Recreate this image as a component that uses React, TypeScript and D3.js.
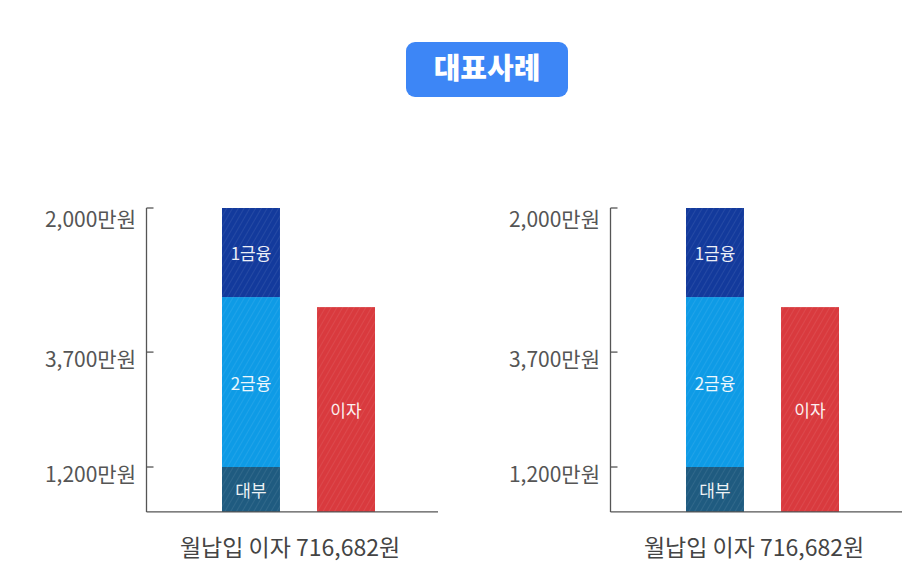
import React from "react";
import * as d3 from "d3";

const title = "대표사례";
const stackCategories = ["대부", "2금융", "1금융"];
const stackValues = [14.8, 55.9, 29.3];
const stackColors = ["#1f5b80", "#0e9be6", "#133a9c"];
const interestLabel = "이자";
const interestValue = 67.4;
const interestColor = "#d93a3e";
const tickValues = [100, 52.6, 14.8];
const tickLabels = ["2,000만원", "3,700만원", "1,200만원"];
const caption = "월납입 이자 716,682원";
const panelOffsets = [0, 464];

const FONT = "'Noto Sans CJK KR', 'Noto Sans', sans-serif";

function Panel({ dx }: { dx: number }) {
  const y = d3.scaleLinear().domain([0, 100]).range([512, 208]);
  const x = d3.scaleBand().domain(["stack", "interest"]).range([222, 375]).paddingInner(0.39).paddingOuter(0);
  const axisX = 146.5;
  let acc = 0;
  const segs = stackValues.map((v, i) => {
    const s = { y0: acc, y1: acc + v, cat: stackCategories[i], color: stackColors[i] };
    acc += v;
    return s;
  });
  const bw = x.bandwidth();
  const sx = x("stack")!;
  const ix = x("interest")!;
  return (
    <g transform={`translate(${dx},0)`}>
      {segs.map((s, i) => (
        <g key={i}>
          <rect x={sx} y={y(s.y1)} width={bw} height={y(s.y0) - y(s.y1)} fill={s.color} />
          <rect x={sx} y={y(s.y1)} width={bw} height={y(s.y0) - y(s.y1)} fill="url(#hatch)" />
          <text x={sx + bw / 2} y={(y(s.y0) + y(s.y1)) / 2} textAnchor="middle" dominantBaseline="central"
            fill="#fff" fontSize={17} fontFamily={FONT} opacity={0.92}>{s.cat}</text>
        </g>
      ))}
      <rect x={ix} y={y(interestValue)} width={bw} height={y(0) - y(interestValue)} fill={interestColor} />
      <rect x={ix} y={y(interestValue)} width={bw} height={y(0) - y(interestValue)} fill="url(#hatch)" />
      <text x={ix + bw / 2} y={(y(0) + y(interestValue)) / 2} textAnchor="middle" dominantBaseline="central"
        fill="#fff" fontSize={17} fontFamily={FONT} opacity={0.92}>{interestLabel}</text>
      <line x1={axisX} x2={axisX} y1={y(100)} y2={y(0)} stroke="#555" strokeWidth={1.3} />
      <line x1={axisX} x2={438} y1={y(0) - 0.2} y2={y(0) - 0.2} stroke="#555" strokeWidth={1.3} />
      {tickValues.map((t, i) => (
        <g key={i}>
          <line x1={axisX} x2={axisX + 7} y1={y(t)} y2={y(t)} stroke="#555" strokeWidth={1.3} />
          <text x={136} y={Math.max(y(t) + 6, 218)} textAnchor="end" dominantBaseline="central" fill="#555"
            fontSize={21} fontFamily={FONT}>{tickLabels[i]}</text>
        </g>
      ))}
      <text x={290} y={546} textAnchor="middle" dominantBaseline="central" fill="#444" fontSize={23}
        fontFamily={FONT}>{caption}</text>
    </g>
  );
}

export default function App() {
  return (
    <svg width={919} height={572} style={{ display: "block", position: "absolute", left: 0, top: 0 }}>
      <defs>
        <pattern id="hatch" width={5} height={5} patternUnits="userSpaceOnUse" patternTransform="rotate(30)">
          <line x1={0} y1={0} x2={0} y2={5} stroke="#ffffff" strokeOpacity={0.08} strokeWidth={2} />
        </pattern>
      </defs>
      <rect width={919} height={572} fill="#fff" />
      <rect x={406} y={42} width={162} height={55} rx={9} fill="#3d86f6" />
      <text x={487} y={66} textAnchor="middle" dominantBaseline="central" fill="#fff" fontSize={29}
        fontWeight={900} fontFamily={FONT}>{title}</text>
      {panelOffsets.map((o, i) => (
        <Panel key={i} dx={o} />
      ))}
    </svg>
  );
}
